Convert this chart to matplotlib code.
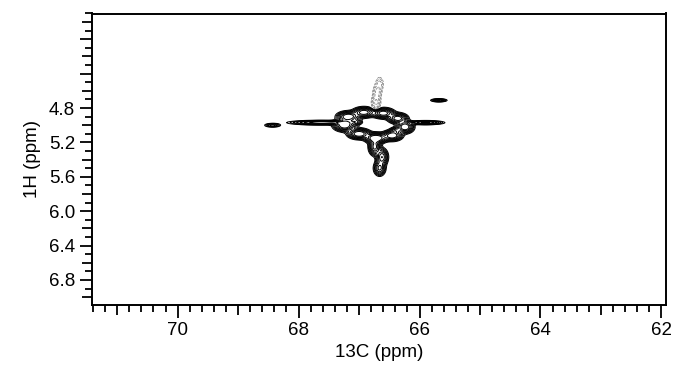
import matplotlib

matplotlib.use("Agg")
import matplotlib.pyplot as plt
import numpy as np
from matplotlib.ticker import FuncFormatter, MultipleLocator

plt.rcParams["font.family"] = ["Liberation Sans", "DejaVu Sans"]

# cross peaks: 13C ppm, 1H ppm, widths, relative height
peak_c = [68.43, 67.62, 67.18, 66.92, 66.60, 66.36, 66.24, 66.45, 66.72, 67.00, 67.24,
          65.90, 65.68, 66.74, 66.62, 66.66, 67.05, 66.40]
peak_h = [5.00, 4.97, 4.90, 4.85, 4.86, 4.92, 5.02, 5.12, 5.15, 5.10, 5.00,
          4.97, 4.71, 5.25, 5.37, 5.50, 4.96, 5.06]
peak_wc = [0.07, 0.26, 0.09, 0.09, 0.09, 0.08, 0.07, 0.08, 0.09, 0.09, 0.09,
           0.15, 0.07, 0.05, 0.05, 0.05, 0.05, 0.05]
peak_wh = [0.012, 0.013, 0.03, 0.03, 0.03, 0.03, 0.035, 0.03, 0.03, 0.03, 0.035,
           0.012, 0.010, 0.05, 0.05, 0.045, 0.02, 0.02]
peak_amp = [0.30, 0.60, 0.9, 0.8, 0.8, 0.8, 0.9, 0.9, 1.0, 0.9, 0.9,
            0.50, 0.35, 0.7, 0.6, 0.5, 0.3, 0.3]

# negative (dashed) signals above the main cross peak
neg_c = [66.72, 66.70, 66.66]
neg_h = [4.74, 4.62, 4.52]
neg_amp = [-0.45, -0.30, -0.2]

pos_levels = [0.05, 0.08, 0.12, 0.17, 0.24, 0.33, 0.45, 0.6]
neg_levels = [-0.4, -0.25, -0.16, -0.1, -0.06]

c_axis = np.linspace(61.9, 71.5, 800)
h_axis = np.linspace(3.6, 7.2, 500)
C, H = np.meshgrid(c_axis, h_axis)
Z = np.zeros_like(C)
for c, h, wc, wh, a in zip(peak_c, peak_h, peak_wc, peak_wh, peak_amp):
    Z += a * np.exp(-0.5 * (((C - c) / wc) ** 2 + ((H - h) / wh) ** 2))
for c, h, a in zip(neg_c, neg_h, neg_amp):
    Z += a * np.exp(-0.5 * (((C - c) / 0.04) ** 2 + ((H - h) / 0.05) ** 2))

fig = plt.figure(figsize=(6.75, 3.75), dpi=100)
ax = fig.add_axes([0.136, 0.187, 0.851, 0.777])

ax.contour(C, H, Z, levels=pos_levels, colors="black", linewidths=0.7)
ax.contour(C, H, Z, levels=neg_levels, colors="0.45", linewidths=0.5,
           linestyles="dashed")

ax.set_xlim(71.42, 61.92)
ax.set_ylim(7.09, 3.70)

ax.xaxis.set_major_locator(MultipleLocator(1))
ax.xaxis.set_minor_locator(MultipleLocator(0.2))
ax.xaxis.set_major_formatter(
    FuncFormatter(lambda v, p: f"{v:.0f}" if round(v) % 2 == 0 else ""))
ax.yaxis.set_major_locator(MultipleLocator(0.2))
ax.yaxis.set_minor_locator(MultipleLocator(0.1))
ax.yaxis.set_major_formatter(
    FuncFormatter(lambda v, p: f"{v:.1f}" if v > 4.7 and round(v * 10) % 4 == 0 else ""))

ax.tick_params(which="major", direction="out", length=9, width=1.3,
               labelsize=13.5, pad=3)
ax.tick_params(which="minor", direction="out", length=5, width=1.3)
ax.tick_params(top=False, right=False)

fig.canvas.draw()
for t in ax.xaxis.get_major_ticks():
    if round(t.get_loc()) % 2 == 0:
        t.tick1line.set_markersize(9)
    else:
        t.tick1line.set_markersize(7)
for t in ax.yaxis.get_major_ticks():
    if round(t.get_loc() * 10) % 4 == 0:
        t.tick1line.set_markersize(9)
    else:
        t.tick1line.set_markersize(7)

for s in ax.spines.values():
    s.set_linewidth(1.4)

ax.set_xlabel("13C (ppm)", fontsize=13.5, labelpad=4)
ax.set_ylabel("1H (ppm)", fontsize=13.5, labelpad=6)

fig.savefig("out.png", dpi=100)
